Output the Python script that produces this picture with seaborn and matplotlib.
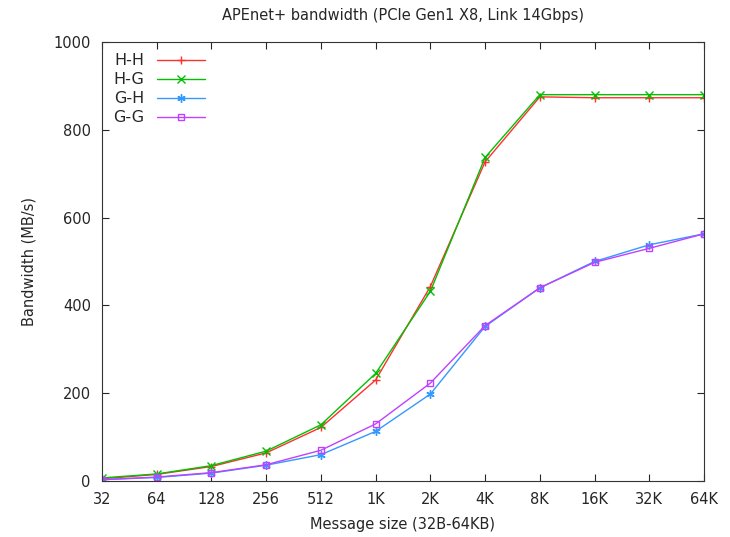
import matplotlib
matplotlib.use("Agg")
import matplotlib.pyplot as plt
import seaborn as sns
import pandas as pd

sizes = ["32", "64", "128", "256", "512", "1K", "2K", "4K", "8K", "16K", "32K", "64K"]
hh = [5, 15, 33, 64, 122, 230, 443, 727, 875, 873, 873, 873]
hg = [7, 16, 35, 68, 128, 245, 432, 737, 880, 880, 880, 880]
gh = [3, 8, 18, 36, 60, 113, 198, 352, 440, 500, 538, 563]
gg = [3, 9, 19, 37, 70, 130, 223, 354, 440, 498, 530, 563]

series = [("H-H", hh, "#ff3030", "+"),
          ("H-G", hg, "#00c000", "x"),
          ("G-H", gh, "#3399ff", (6, 2, 0)),
          ("G-G", gg, "#c040ff", "s")]

sns.set_style("ticks")
plt.rcParams['font.family'] = ['DejaVu Sans']

fig = plt.figure(figsize=(7.3, 5.37), dpi=100)
ax = fig.add_axes([0.1397, 0.1043, 0.8247, 0.8175])

for name, vals, col, mk in series:
    df = pd.DataFrame({"x": range(len(sizes)), "y": vals})
    kw = dict(marker=mk, markersize=6, markeredgewidth=1, color=col,
              markeredgecolor=col, linewidth=1, label=name)
    if mk == "s":
        kw["markerfacecolor"] = "none"
        kw["markersize"] = 5
    sns.lineplot(data=df, x="x", y="y", ax=ax, **kw)

ax.set_xlim(0, len(sizes) - 1)
ax.set_ylim(0, 1000)
ax.set_xticks(range(len(sizes)))
ax.set_xticklabels(sizes)
ax.set_yticks([0, 200, 400, 600, 800, 1000])
ax.tick_params(direction="in", top=True, right=True, length=5, labelsize=10.5, pad=8)
ax.set_xlabel("Message size (32B-64KB)", fontsize=10.5, labelpad=7)
ax.set_ylabel("Bandwidth (MB/s)", fontsize=10.5, labelpad=12)
ax.set_title("APEnet+ bandwidth (PCIe Gen1 X8, Link 14Gbps)", fontsize=10.5, pad=16)
for s in ax.spines.values():
    s.set_linewidth(0.8)
    s.set_color("#333333")

leg = ax.legend(loc="upper left", frameon=False, markerfirst=False, fontsize=11.5,
                handlelength=3.0, borderaxespad=0.3, labelspacing=0.25, handletextpad=0.8)

fig.savefig("out.png", dpi=100)
